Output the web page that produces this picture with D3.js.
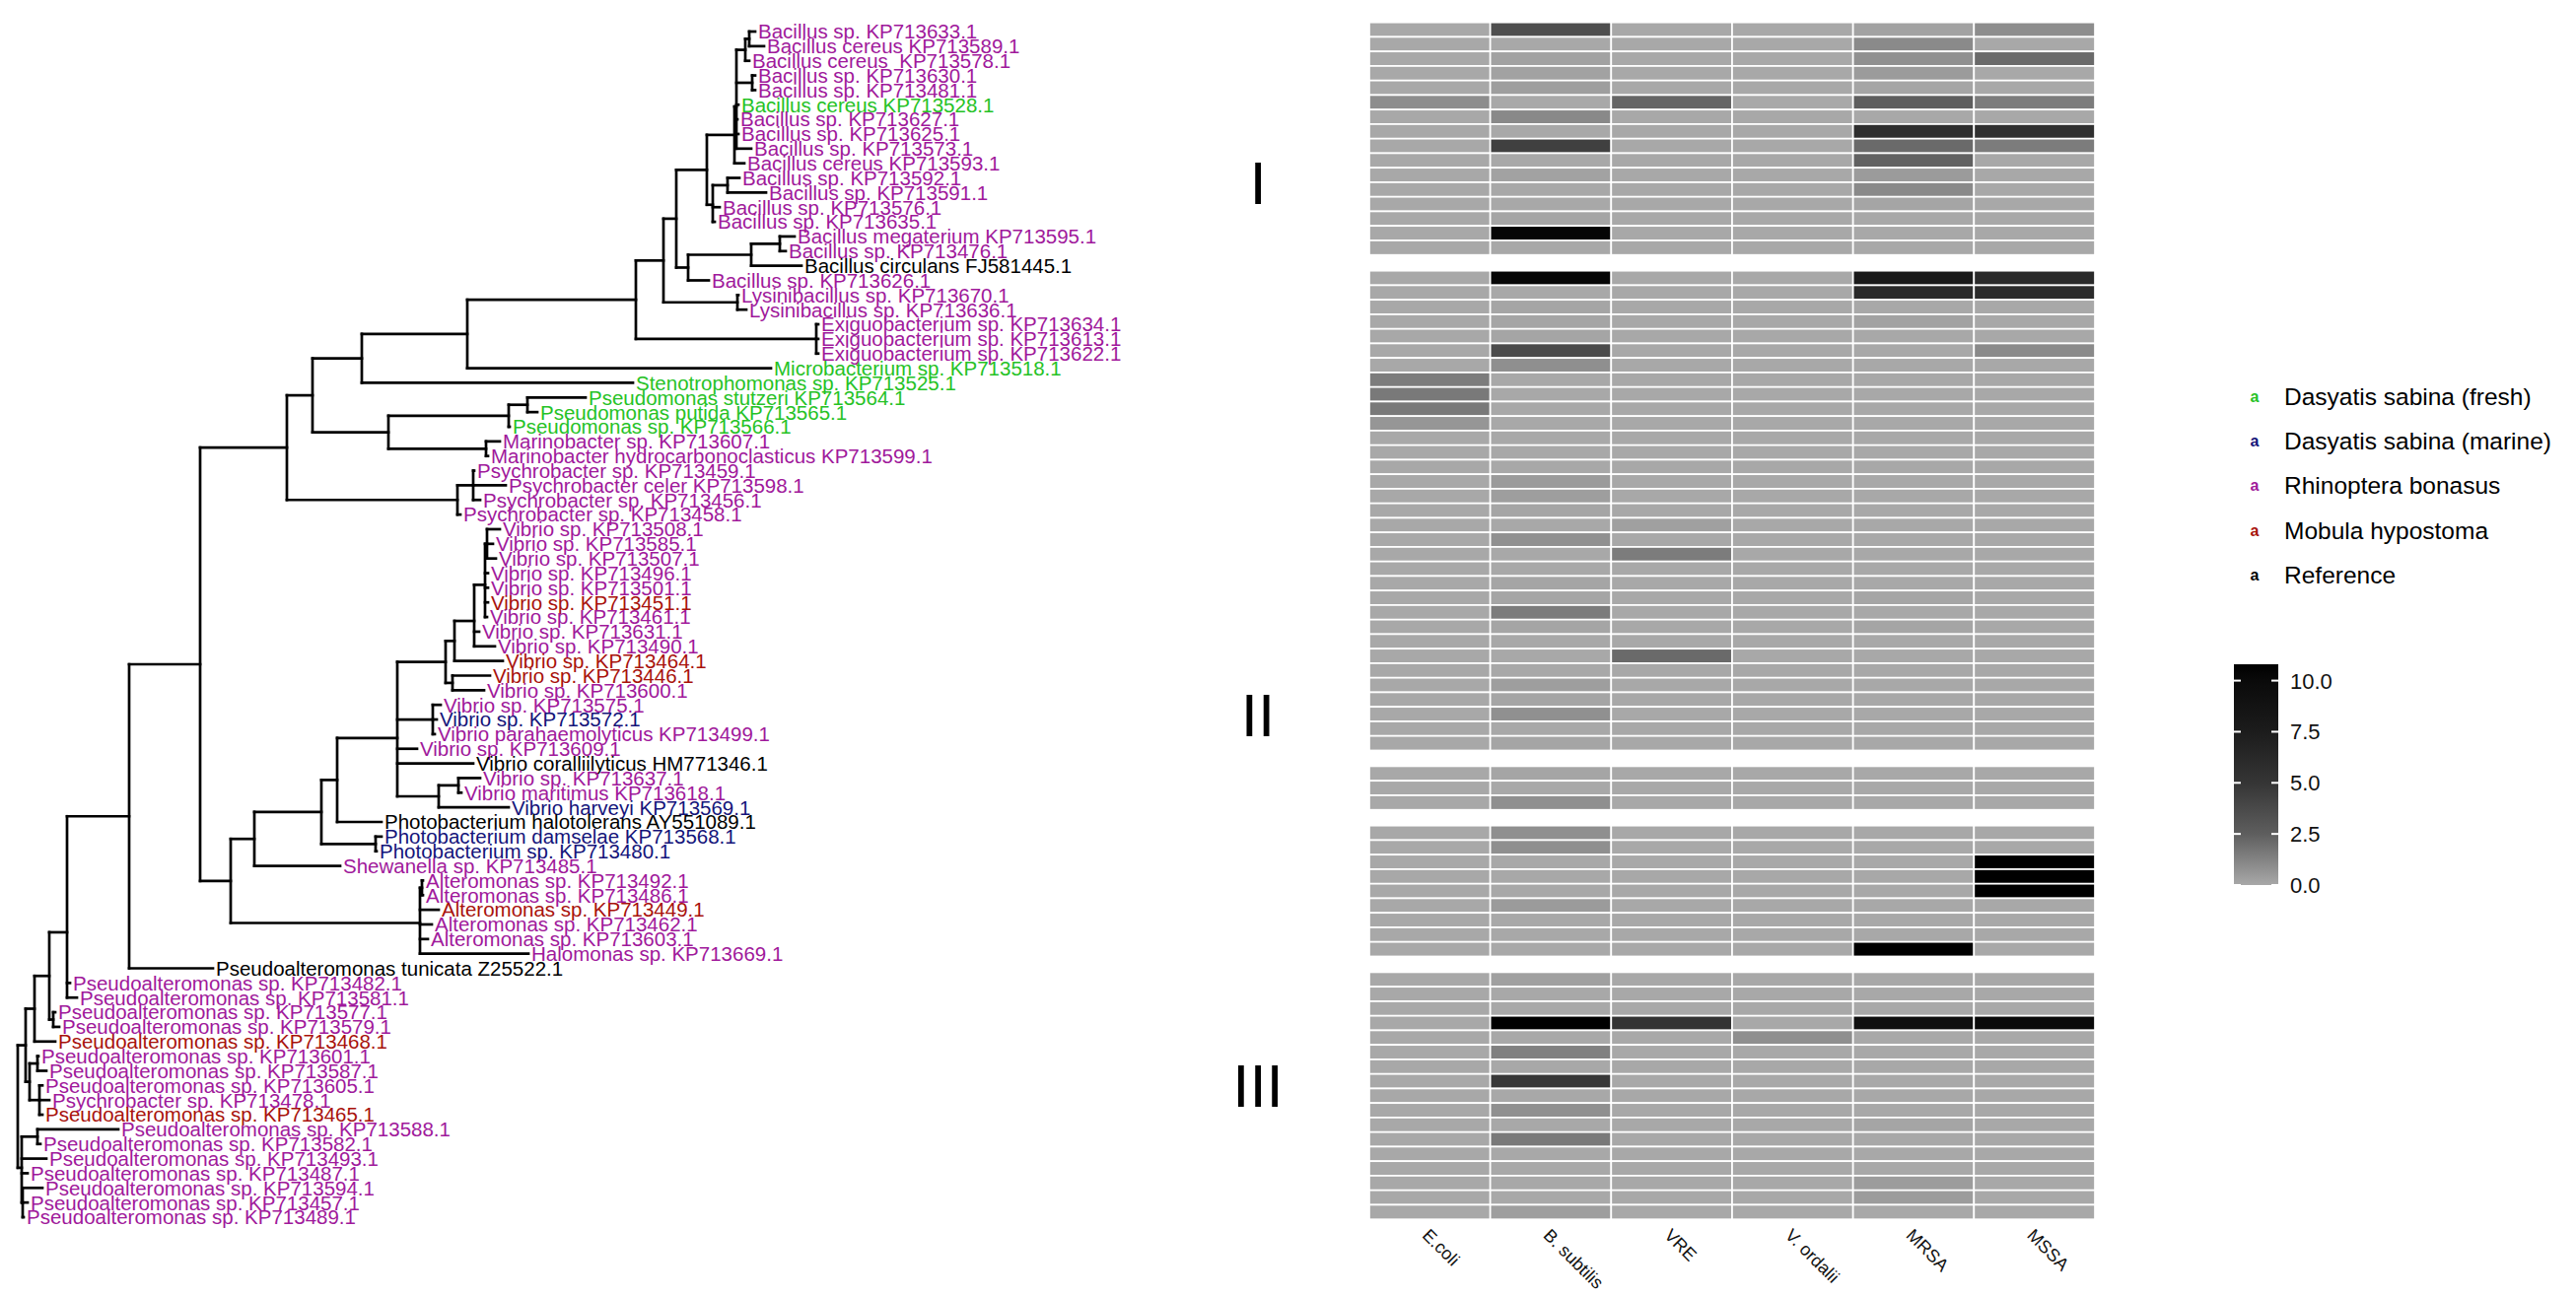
<!DOCTYPE html>
<html>
<head>
<meta charset="utf-8">
<script src="https://cdn.jsdelivr.net/npm/d3@7"></script>
<style>
body { margin: 0; background: #fff; }
text { font-family: "Liberation Sans", Arial, sans-serif; }
</style>
</head>
<body>
<script>
var w = 2613;
var h = 1316;

// phylogeny, tips are named by their index in tipLabels
var treeNewick =
  "(((((((((((((((((((0:0.006,1:0.015):0.004,2:0.004):0.009," +
  "(3:0.003,4:0.003):0.016,5:0.002,6:0.001,7:0.002,8:0.015):0.002,9:0.010):0.028," +
  "((10:0.012,11:0.039):0.015,12:0.007,13:0.002):0.006):0.031," +
  "(((14:0.015,15:0.006):0.029,16:0.051):0.064,17:0.021):0.012):0.013," +
  "(18:0.001,19:0.009):0.075):0.028," +
  "(20:0.002,21:0.002,22:0.002):0.183):0.171,23:0.308):0.107,24:0.275):0.050," +
  "(((25:0.059,26:0.010):0.019,27:0.001):0.122,(28:0.014,29:0.002):0.099):0.077):0.026," +
  "((30:0.001,31:0.033,32:0.007):0.016,33:0.003):0.173):0.088," +
  "((((((((((34:0.013,35:0.006,36:0.009):0.002,37:0.003,38:0.003,39:0.003,40:0.002):0.011," +
  "41:0.005,42:0.021):0.020,43:0.049):0.009,(44:0.038,45:0.032):0.007):0.049," +
  "(46:0.008,47:0.004,48:0.002):0.036,49:0.020,50:0.077," +
  "((51:0.022,52:0.003):0.020,53:0.071):0.042):0.061,54:0.045):0.016," +
  "(55:0.006,56:0.001):0.055):0.068,57:0.087):0.024," +
  "((58:0.001,59:0.001):0.002,60:0.019,61:0.012,62:0.008,63:0.110):0.192):0.031):0.072,64:0.085):0.063," +
  "65:0.003,66:0.010):0.018,(67:0.002,68:0.006):0.004):0.015,69:0.021):0.009," +
  "((70:0.001,71:0.009):0.008,(72:0.003,73:0.010,74:0.003):0.010):0.004):0.008," +
  "((75:0.082,76:0.003):0.016,77:0.025,78:0.006,(79:0.020,80:0.005,81:0.001):0.001):0.004);";

var tipLabels = [
  "Bacillus sp. KP713633.1", "Bacillus cereus KP713589.1", "Bacillus cereus  KP713578.1",
  "Bacillus sp. KP713630.1", "Bacillus sp. KP713481.1", "Bacillus cereus KP713528.1",
  "Bacillus sp. KP713627.1", "Bacillus sp. KP713625.1", "Bacillus sp. KP713573.1",
  "Bacillus cereus KP713593.1", "Bacillus sp. KP713592.1", "Bacillus sp. KP713591.1",
  "Bacillus sp. KP713576.1", "Bacillus sp. KP713635.1", "Bacillus megaterium KP713595.1",
  "Bacillus sp. KP713476.1", "Bacillus circulans FJ581445.1", "Bacillus sp. KP713626.1",
  "Lysinibacillus sp. KP713670.1", "Lysinibacillus sp. KP713636.1",
  "Exiguobacterium sp. KP713634.1", "Exiguobacterium sp. KP713613.1", "Exiguobacterium sp. KP713622.1",
  "Microbacterium sp. KP713518.1", "Stenotrophomonas sp. KP713525.1",
  "Pseudomonas stutzeri KP713564.1", "Pseudomonas putida KP713565.1", "Pseudomonas sp. KP713566.1",
  "Marinobacter sp. KP713607.1", "Marinobacter hydrocarbonoclasticus KP713599.1",
  "Psychrobacter sp. KP713459.1", "Psychrobacter celer KP713598.1",
  "Psychrobacter sp. KP713456.1", "Psychrobacter sp. KP713458.1",
  "Vibrio sp. KP713508.1", "Vibrio sp. KP713585.1", "Vibrio sp. KP713507.1",
  "Vibrio sp. KP713496.1", "Vibrio sp. KP713501.1", "Vibrio sp. KP713451.1",
  "Vibrio sp. KP713461.1", "Vibrio sp. KP713631.1", "Vibrio sp. KP713490.1",
  "Vibrio sp. KP713464.1", "Vibrio sp. KP713446.1", "Vibrio sp. KP713600.1",
  "Vibrio sp. KP713575.1", "Vibrio sp. KP713572.1", "Vibrio parahaemolyticus KP713499.1",
  "Vibrio sp. KP713609.1", "Vibrio coralliilyticus HM771346.1", "Vibrio sp. KP713637.1",
  "Vibrio maritimus KP713618.1", "Vibrio harveyi KP713569.1",
  "Photobacterium halotolerans AY551089.1", "Photobacterium damselae KP713568.1",
  "Photobacterium sp. KP713480.1", "Shewanella sp. KP713485.1",
  "Alteromonas sp. KP713492.1", "Alteromonas sp. KP713486.1", "Alteromonas sp. KP713449.1",
  "Alteromonas sp. KP713462.1", "Alteromonas sp. KP713603.1", "Halomonas sp. KP713669.1",
  "Pseudoalteromonas tunicata Z25522.1",
  "Pseudoalteromonas sp. KP713482.1", "Pseudoalteromonas sp. KP713581.1",
  "Pseudoalteromonas sp. KP713577.1", "Pseudoalteromonas sp. KP713579.1",
  "Pseudoalteromonas sp. KP713468.1", "Pseudoalteromonas sp. KP713601.1",
  "Pseudoalteromonas sp. KP713587.1", "Pseudoalteromonas sp. KP713605.1",
  "Psychrobacter sp. KP713478.1", "Pseudoalteromonas sp. KP713465.1",
  "Pseudoalteromonas sp. KP713588.1", "Pseudoalteromonas sp. KP713582.1",
  "Pseudoalteromonas sp. KP713493.1", "Pseudoalteromonas sp. KP713487.1",
  "Pseudoalteromonas sp. KP713594.1", "Pseudoalteromonas sp. KP713457.1",
  "Pseudoalteromonas sp. KP713489.1"
];

// 0 fresh, 1 marine, 2 Rhinoptera, 3 Mobula, 4 reference
var tipGroups = [
  2,2,2,2,2,0,2,2,2,2, 2,2,2,2,2,2,4,2,2,2,
  2,2,2,0,0,0,0,0,2,2, 2,2,2,2,2,2,2,2,2,3,
  2,2,2,3,3,2,2,1,2,2, 4,2,2,1,4,1,1,2,2,2,
  3,2,2,2,4,2,2,2,2,3, 2,2,2,2,3,2,2,2,2,2,
  2,2
];
var groupNames = ["Dasyatis sabina (fresh)", "Dasyatis sabina (marine)", "Rhinoptera bonasus", "Mobula hypostoma", "Reference"];
var groupColors = ["#26c226", "#14147a", "#a0199b", "#a8120c", "#000000"];

// heatmap
var targets = ["E.coli", "B. subtilis", "VRE", "V. ordalii", "MRSA", "MSSA"];
var blockSizes = [16, 33, 3, 9, 17];
var blockNames = ["I", "II", "III"];

var ecoli = [
  0,0,0,0,0,0.9,0,0,0,0,0,0,0,0,0,0,
  0,0,0,0,0,0,0,1.5,1.6,1.6,0.6,0,0,0,0,0,0,0,0,0,0,0,0,0,0,0,0,0,0,0,0,0,0,
  0,0,0,
  0,0,0,0,0,0,0,0,0,
  0,0,0,0,0,0,0,0,0,0,0,0,0,0,0,0,0
];
var bsub = [
  3.5,0,0.2,0.2,0.35,0,1.05,0,4.3,0,0.2,0,0,0.1,10.3,0,
  10.3,0,0.1,0.1,0.1,3.65,0.83,0,0,0,0,0,0,0,0.45,0.35,0.1,0,0.8,0,0,0.1,0.1,1.5,0.1,0,0,0,0.35,0.1,0.8,0,0.1,
  0.1,0,0.83,
  0.83,0.83,0,0,0,0.45,0,0,0,
  0.28,0,0,10.8,0,1.35,0,4.8,0,0.8,0,1.6,0,0,0,0,0.35
];
var vre = [
  0,0,0,0,0,2.25,0,0,0,0,0,0,0,0,0,0,
  0,0,0,0,0,0,0,0,0,0,0,0,0,0,0,0,0,0.28,0,1.5,0,0,0,0,0,0,2.1,0,0,0,0,0,0,
  0,0,0,
  0,0,0,0,0,0,0,0,0,
  0,0,0,5.2,0,0,0,0,0,0,0,0,0,0,0,0,0
];
var vord = [
  0,0,0,0,0,0,0,0,0,0,0,0,0,0,0,0,
  0,0,0,0,0,0,0,0,0,0,0,0,0,0,0,0,0,0,0,0,0,0,0,0,0,0,0,0,0,0,0,0,0,
  0,0,0,
  0,0,0,0,0,0,0,0,0,
  0,0,0,0,0.83,0,0,0,0,0,0,0,0,0,0,0,0
];
var mrsa = [
  0.2,1.0,0.8,0.45,0.1,2.5,0,5.7,2.1,2.4,0.45,1.0,0.1,0,0,0,
  7.8,6.1,0,0.2,0,0,0,0,0,0,0,0,0,0,0,0,0,0,0,0,0,0,0.1,0,0.1,0,0,0,0,0,0,0,0,
  0,0,0,
  0,0,0,0,0,0,0,0,10.8,
  0,0,0,9.3,0,0,0,0,0,0,0.1,0,0,0,0.42,0.42,0
];
var mssa = [
  0.9,0,2.1,0,0,1.5,0,5.5,1.5,0,0,0,0,0,0,0,
  6.1,6.0,0,0,0,1.0,0,0,0,0,0,0,0,0,0,0,0,0,0,0,0,0,0,0,0,0,0,0,0,0,0,0,0,
  0,0,0,
  0,0,10.8,10.8,10.8,0,0,0,0,
  0,0,0,10.0,0,0,0,0,0,0,0,0,0,0,0,0,0
];
var seriesValues = [ecoli, bsub, vre, vord, mrsa, mssa];
var legendTicks = [0, 2.5, 5, 7.5, 10];

// ---------- newick ----------
function parseNewick(s) {
  var ancestors = [];
  var tree = {};
  var tokens = s.split(/\s*(;|\(|\)|,|:)\s*/);
  for (var i = 0; i < tokens.length; i++) {
    var t = tokens[i];
    if (t === "(") {
      var sub = {};
      tree.children = [sub];
      ancestors.push(tree);
      tree = sub;
    } else if (t === ",") {
      var sib = {};
      ancestors[ancestors.length - 1].children.push(sib);
      tree = sib;
    } else if (t === ")") {
      tree = ancestors.pop();
    } else if (t === ":" || t === ";" || t === "") {
    } else {
      var prev = tokens[i - 1];
      if (prev === ":") tree.length = parseFloat(t);
      else tree.name = t;
    }
  }
  return tree;
}

var svg = d3.select("body").append("svg")
  .attr("width", w)
  .attr("height", h)
  .style("background-color", "white");

var root = d3.hierarchy(parseNewick(treeNewick));
root.eachBefore(function(d) {
  d.dist = d.parent ? d.parent.dist + (d.data.length || 0) : 0;
});

var xTree = d3.scaleLinear().domain([0, 0.8]).range([18, 818]);
var yTip = d3.scaleLinear().domain([0, tipLabels.length - 1]).range([32, 1235]);

root.eachAfter(function(d) {
  if (d.children) d.y = d3.mean(d.children, function(c) { return c.y; });
  else d.y = yTip(+d.data.name);
});

var treeG = svg.append("g");
var nodes = root.descendants();

// horizontal branches
treeG.selectAll("line.h")
  .data(nodes.filter(function(d) { return d.parent; }))
  .join("line")
  .attr("class", "h")
  .attr("x1", function(d) { return xTree(d.parent.dist); })
  .attr("x2", function(d) { return xTree(d.dist); })
  .attr("y1", function(d) { return d.y; })
  .attr("y2", function(d) { return d.y; })
  .attr("stroke", "black")
  .attr("stroke-width", 2.7)
  .attr("stroke-linecap", "square");

// vertical connectors
treeG.selectAll("line.v")
  .data(nodes.filter(function(d) { return d.children; }))
  .join("line")
  .attr("class", "v")
  .attr("x1", function(d) { return xTree(d.dist); })
  .attr("x2", function(d) { return xTree(d.dist); })
  .attr("y1", function(d) { return d3.min(d.children, function(c) { return c.y; }); })
  .attr("y2", function(d) { return d3.max(d.children, function(c) { return c.y; }); })
  .attr("stroke", "black")
  .attr("stroke-width", 2.7)
  .attr("stroke-linecap", "square");

treeG.selectAll("text.tip")
  .data(root.leaves())
  .join("text")
  .attr("class", "tip")
  .attr("x", function(d) { return xTree(d.dist) + 3; })
  .attr("y", function(d) { return d.y; })
  .attr("dy", "0.36em")
  .attr("font-size", "20.5px")
  .attr("fill", function(d) { return groupColors[tipGroups[+d.data.name]]; })
  .style("white-space", "pre")
  .text(function(d) { return tipLabels[+d.data.name]; });

// ---------- heatmap ----------
var fill = d3.scaleLinear()
  .domain([0, 2.5, 5, 7.5, 10, 10.8])
  .range(["#a8a8a8", "#5e5e5e", "#353535", "#1c1c1c", "#0a0a0a", "#000000"]);

var xHeat = d3.scaleBand().domain(targets).range([1389, 2125]);
var pitch = 14.75;
var blockGap = 16;
var yRow = d3.scaleLinear().domain([0, 78]).range([22.7, 22.7 + 78 * pitch]);

var rowBlock = [];
blockSizes.forEach(function(n, b) {
  for (var k = 0; k < n; k++) rowBlock.push(b);
});
function rowTop(r) { return yRow(r) + rowBlock[r] * blockGap; }

var cells = [];
targets.forEach(function(t, c) {
  seriesValues[c].forEach(function(v, r) {
    cells.push({ target: t, row: r, value: v });
  });
});

svg.append("g").selectAll("rect")
  .data(cells)
  .join("rect")
  .attr("x", function(d) { return xHeat(d.target); })
  .attr("y", function(d) { return rowTop(d.row); })
  .attr("width", xHeat.bandwidth())
  .attr("height", pitch)
  .attr("fill", function(d) { return fill(d.value); })
  .attr("stroke", "white")
  .attr("stroke-width", 1.7);

svg.append("g").selectAll("text")
  .data(targets)
  .join("text")
  .attr("transform", function(d) {
    return "translate(" + (xHeat(d) + xHeat.bandwidth() / 2 - 4) + ",1250) rotate(45)";
  })
  .attr("dy", "0.35em")
  .attr("font-size", "18px")
  .attr("fill", "#111")
  .text(function(d) { return d; });

// block labels
var blockLabelY = [207, 747, 1123];
svg.append("g").selectAll("text")
  .data(blockNames)
  .join("text")
  .attr("x", 1276)
  .attr("y", function(d, i) { return blockLabelY[i]; })
  .attr("text-anchor", "middle")
  .attr("font-size", "62px")
  .attr("fill", "black")
  .text(function(d) { return d; });

// ---------- legends ----------
var legG = svg.append("g");
var legItems = legG.selectAll("g")
  .data(groupNames)
  .join("g")
  .attr("transform", function(d, i) { return "translate(0," + (402 + i * 45.25) + ")"; });
legItems.append("text")
  .attr("x", 2287)
  .attr("dy", "0.36em")
  .attr("text-anchor", "middle")
  .attr("font-size", "16px")
  .attr("font-weight", "bold")
  .attr("fill", function(d, i) { return groupColors[i]; })
  .text("a");
legItems.append("text")
  .attr("x", 2317)
  .attr("dy", "0.36em")
  .attr("font-size", "24.5px")
  .attr("fill", "black")
  .text(function(d) { return d; });

var yBar = d3.scaleLinear().domain([0, 10.8]).range([898, 674]);
var defs = svg.append("defs");
var grad = defs.append("linearGradient")
  .attr("id", "bar")
  .attr("x1", 0).attr("x2", 0).attr("y1", 1).attr("y2", 0);
grad.selectAll("stop")
  .data(fill.domain())
  .join("stop")
  .attr("offset", function(d) { return d / 10.8; })
  .attr("stop-color", function(d) { return fill(d); });

svg.append("rect")
  .attr("x", 2266)
  .attr("y", yBar(10.8))
  .attr("width", 45)
  .attr("height", yBar(0) - yBar(10.8))
  .attr("fill", "url(#bar)");

var tickG = svg.append("g").selectAll("g")
  .data(legendTicks)
  .join("g")
  .attr("transform", function(d) { return "translate(0," + yBar(d) + ")"; });
tickG.append("line")
  .attr("x1", 2266).attr("x2", 2273)
  .attr("stroke", "white").attr("stroke-width", 2);
tickG.append("line")
  .attr("x1", 2304).attr("x2", 2311)
  .attr("stroke", "white").attr("stroke-width", 2);
tickG.append("text")
  .attr("x", 2323)
  .attr("dy", "0.36em")
  .attr("font-size", "22px")
  .attr("fill", "#111")
  .text(function(d) { return d3.format(".1f")(d); });
</script>
</body>
</html>
